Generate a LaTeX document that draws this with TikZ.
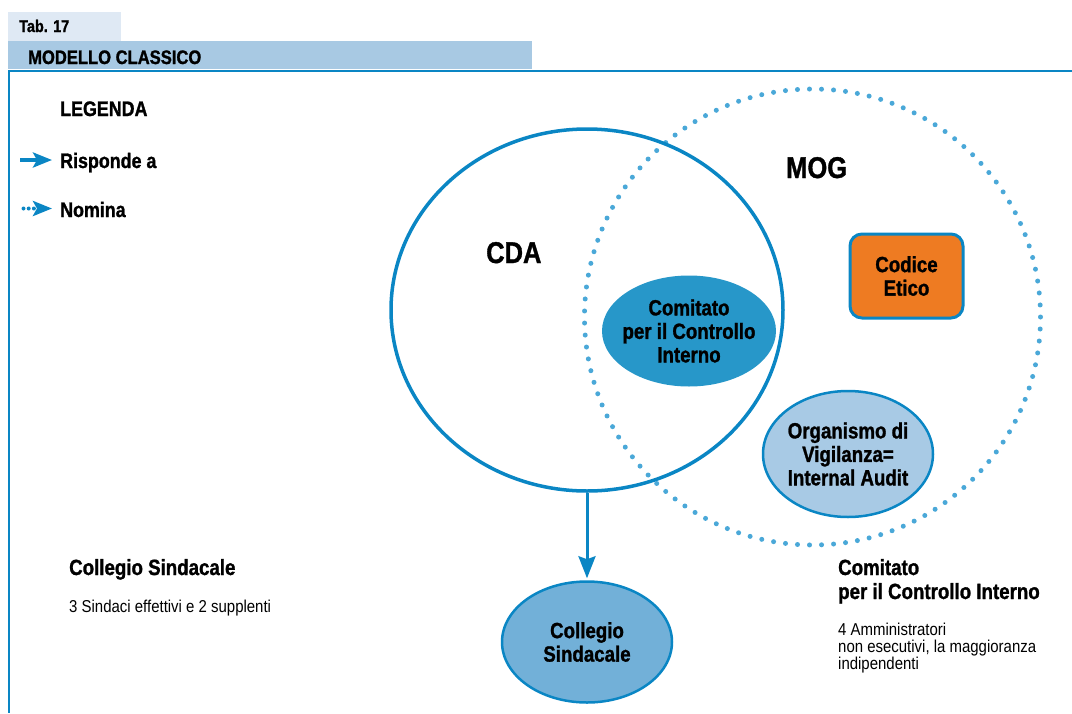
\documentclass[tikz,border=0pt]{standalone}
\usepackage{fontspec}
\setmainfont{Liberation Sans}[FakeStretch=0.85, BoldFeatures={FakeBold=1.2}]
\newfontfamily\plainfont{Liberation Sans}[FakeStretch=0.87]
\usetikzlibrary{shapes.geometric,arrows.meta}

\definecolor{frameblue}{RGB}{10,134,196}
\definecolor{dotblue}{RGB}{74,168,216}
\definecolor{tabfill}{RGB}{223,233,244}
\definecolor{barfill}{RGB}{168,201,227}
\definecolor{cciFill}{RGB}{39,151,201}
\definecolor{odvFill}{RGB}{168,202,229}
\definecolor{csFill}{RGB}{114,176,216}
\definecolor{etico}{RGB}{238,123,34}

\newcommand{\bsz}[1]{\bfseries\fontsize{#1}{#1}\selectfont}

\tikzset{
  title/.style={anchor=base west, inner sep=0pt, font=\bsz{#1}},
  note/.style={anchor=base west, inner sep=0pt, font=\plainfont\fontsize{17.2}{17}\selectfont},
  bubble/.style={ellipse, draw=frameblue, line width=2.5pt, inner sep=-8pt, align=center,
    font=\bfseries\fontsize{22}{23.5}\selectfont},
  legarrow/.style={draw=frameblue, line width=4pt,
    -{Stealth[length=19pt,width=15pt,inset=4pt]}},
}

\begin{document}
\begin{tikzpicture}[x=1pt,y=-1pt]
\useasboundingbox (0,0) rectangle (1072,713);

% heading
\fill[tabfill] (8,12) rectangle (121,41);
\fill[barfill] (8,41) rectangle (532,69);
\draw[frameblue, line width=2pt] (1072,70.5) -- (8.5,70.5) -- (8.5,713);
\node[title=17] (tab) at (19,32) {Tab. 17};
\node[title=19.5] (head) at (28,64) {MODELLO CLASSICO};

% legend
\node[title=21] (leg) at (60,116) {LEGENDA};
\coordinate (r0) at (20,160);
\coordinate (r1) at (52,160);
\draw[legarrow] (r0) -- (r1);
\node[title=21] (risp) at (60,168) {Risponde a};
\coordinate (n0) at (23.5,208.5);
\coordinate (n1) at (52,208.5);
\draw[legarrow, line cap=round, dash pattern=on 0pt off 5.2pt] (n0) -- (n1);
\node[title=21] (nom) at (60,217) {Nomina};

% MOG (dotted circle) and CDA (ellipse)
\node[circle, minimum size=456pt, inner sep=0pt, draw=dotblue, line width=5pt,
      line cap=round, dash pattern=on 0pt off 12.04pt] (mog) at (812.5,317) {};
\node[ellipse, draw=frameblue, line width=3.5pt, minimum width=392pt,
      minimum height=362pt, inner sep=0pt] (cda) at (587,310) {};
\node[title=30] (cdalab) at (486,263) {CDA};
\node[title=30] (moglab) at (786,178) {MOG};

% organs inside the circles
\node[bubble, fill=cciFill, draw=none, minimum width=174pt, minimum height=111pt]
  (cci) at (689,331) {Comitato\\per il Controllo\\Interno};
\node[draw=frameblue, line width=3pt, fill=etico, rounded corners=12pt,
      minimum width=113pt, minimum height=84pt, align=center,
      font=\bfseries\fontsize{22}{23.5}\selectfont] (ce) at (906.5,276) {Codice\\Etico};
\node[bubble, fill=odvFill, minimum width=170pt, minimum height=126pt]
  (odv) at (848,454) {Organismo di\\Vigilanza=\\Internal Audit};

% Collegio Sindacale
\node[bubble, fill=csFill, minimum width=170pt, minimum height=121pt]
  (cs) at (587,642) {Collegio\\Sindacale};
\draw[frameblue, line width=3pt, -{Stealth[length=22pt,width=17pt,inset=3pt]},
      shorten >=2pt] (cda.south) -- (cs.north);

% side notes
\node[title=22] (csT) at (69,575) {Collegio Sindacale};
\node[note] (csN) at (69,612) {3 Sindaci effettivi e 2 supplenti};

\node[title=22] (cciT1) at (838,575) {Comitato};
\node[title=22] (cciT2) at (838,599) {per il Controllo Interno};
\node[note] (cciN1) at (838,635) {4 Amministratori};
\node[note] (cciN2) at (838,652) {non esecutivi, la maggioranza};
\node[note] (cciN3) at (838,669) {indipendenti};
\end{tikzpicture}
\end{document}
